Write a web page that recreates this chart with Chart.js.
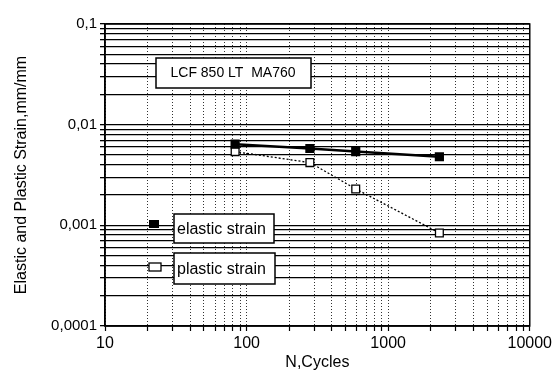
<!DOCTYPE html>
<html><head><meta charset="utf-8">
<script src="https://cdn.jsdelivr.net/npm/chart.js@4.4.1/dist/chart.umd.min.js"></script>
<style>html,body{margin:0;padding:0;background:#fff}#wrap{width:555px;height:375px;position:relative}</style>
</head><body><div id="wrap"><canvas id="c" width="555" height="375"></canvas></div>
<script>
const cycles = [83, 280, 590, 2300];
const elasticStrain = [0.0064, 0.0058, 0.0054, 0.0048];
const plasticStrain = [0.0054, 0.0042, 0.0023, 0.00084];
const xDecades = [10, 100, 1000, 10000];
const xTickLabels = ['10', '100', '1000', '10000'];
const yDecades = [0.0001, 0.001, 0.01, 0.1];
const yTickLabels = ['0,0001', '0,001', '0,01', '0,1'];
const seriesNames = ['elastic strain', 'plastic strain'];
const chartTitle = 'LCF 850 LT  MA760';
const xTitle = 'N,Cycles';
const yTitle = 'Elastic and Plastic Strain,mm/mm';

const FONT = "'Liberation Sans', Arial, sans-serif";

function logTicks(decades) {
  const t = [];
  for (let i = 0; i < decades.length - 1; i++) {
    for (let k = 1; k < 10; k++) t.push({ value: decades[i] * k });
  }
  t.push({ value: decades[decades.length - 1] });
  return t;
}
function decadeLabel(value, decades, labels) {
  for (let j = 0; j < decades.length; j++) {
    if (Math.abs(value / decades[j] - 1) < 1e-6) return labels[j];
  }
  return '';
}

const boxesPlugin = {
  id: 'boxes',
  afterDraw(chart) {
    const ctx = chart.ctx;
    const a = chart.chartArea;
    ctx.save();
    // frame
    ctx.strokeStyle = '#000';
    ctx.lineWidth = 1.5;
    ctx.strokeRect(a.left, a.top, a.right - a.left, a.bottom - a.top);
    // title box
    ctx.fillStyle = '#fff';
    ctx.fillRect(156, 58, 155, 30);
    ctx.lineWidth = 1.5;
    ctx.strokeRect(156, 58, 155, 30);
    ctx.fillStyle = '#000';
    ctx.font = '14px ' + FONT;
    ctx.textAlign = 'center';
    ctx.textBaseline = 'middle';
    ctx.fillText(chartTitle, 233, 73);
    // legend
    const items = [
      { box: [174, 214, 100, 29], mk: [154, 224], filled: true },
      { box: [174, 253, 101, 31], mk: [155, 267], filled: false }
    ];
    items.forEach((it, i) => {
      const [bx, by, bw, bh] = it.box;
      ctx.fillStyle = '#fff';
      ctx.fillRect(bx, by, bw, bh);
      ctx.strokeStyle = '#000';
      ctx.lineWidth = 1.5;
      ctx.strokeRect(bx, by, bw, bh);
      ctx.fillStyle = '#000';
      ctx.font = '16px ' + FONT;
      ctx.textAlign = 'left';
      ctx.fillText(seriesNames[i], bx + 3, by + bh / 2 + 1);
      const [mx, my] = it.mk;
      if (it.filled) {
        ctx.fillStyle = '#000';
        ctx.fillRect(mx - 5, my - 4, 10, 8);
      } else {
        ctx.fillStyle = '#fff';
        ctx.fillRect(mx - 6, my - 4, 12, 8);
        ctx.lineWidth = 1.3;
        ctx.strokeRect(mx - 6, my - 4, 12, 8);
      }
    });
    ctx.restore();
  }
};

new Chart(document.getElementById('c'), {
  type: 'scatter',
  data: {
    datasets: [
      {
        label: seriesNames[0],
        data: cycles.map((x, i) => ({ x: x, y: elasticStrain[i] })),
        showLine: true,
        borderColor: '#000',
        borderWidth: 2.5,
        backgroundColor: '#000',
        pointStyle: 'rect',
        pointRadius: 6.5,
        pointBorderWidth: 0
      },
      {
        label: seriesNames[1],
        data: cycles.map((x, i) => ({ x: x, y: plasticStrain[i] })),
        showLine: true,
        borderColor: '#000',
        borderWidth: 1.3,
        borderDash: [2, 2],
        backgroundColor: '#fff',
        pointStyle: 'rect',
        pointRadius: 5.5,
        pointBorderWidth: 1.3,
        pointBorderColor: '#000',
        pointBackgroundColor: '#fff'
      }
    ]
  },
  options: {
    responsive: false,
    animation: false,
    devicePixelRatio: 1,
    layout: { padding: { top: 24, right: 17, left: 0, bottom: 0 } },
    plugins: { legend: { display: false }, tooltip: { enabled: false } },
    scales: {
      x: {
        type: 'logarithmic',
        min: 10, max: 10000,
        afterBuildTicks: s => { s.ticks = logTicks(xDecades); },
        afterFit: s => { s.height = 49; },
        ticks: {
          autoSkip: false, maxRotation: 0, padding: 3, color: '#000',
          font: { family: FONT, size: 16 },
          callback: v => decadeLabel(v, xDecades, xTickLabels)
        },
        grid: { color: '#333', lineWidth: 1, tickLength: 5, tickColor: '#000', tickWidth: 1.2 },
        border: { display: true, color: '#000', width: 1.5, dash: [1, 2] },
        title: { display: true, text: xTitle, color: '#000', font: { family: FONT, size: 16 }, padding: { top: 0, bottom: 3 } }
      },
      y: {
        type: 'logarithmic',
        min: 0.0001, max: 0.1,
        afterBuildTicks: s => { s.ticks = logTicks(yDecades); },
        afterFit: s => { s.width = 105; },
        ticks: {
          autoSkip: false, padding: 3, color: '#000',
          font: { family: FONT, size: 15 },
          callback: v => decadeLabel(v, yDecades, yTickLabels)
        },
        grid: { color: '#000', lineWidth: 1.3, tickLength: 5, tickColor: '#000' },
        border: { display: true, color: '#000', width: 1.5 },
        title: { display: true, text: yTitle, color: '#000', font: { family: FONT, size: 16 }, padding: { top: 12, bottom: 0 } }
      }
    }
  },
  plugins: [boxesPlugin]
});
</script></body></html>
